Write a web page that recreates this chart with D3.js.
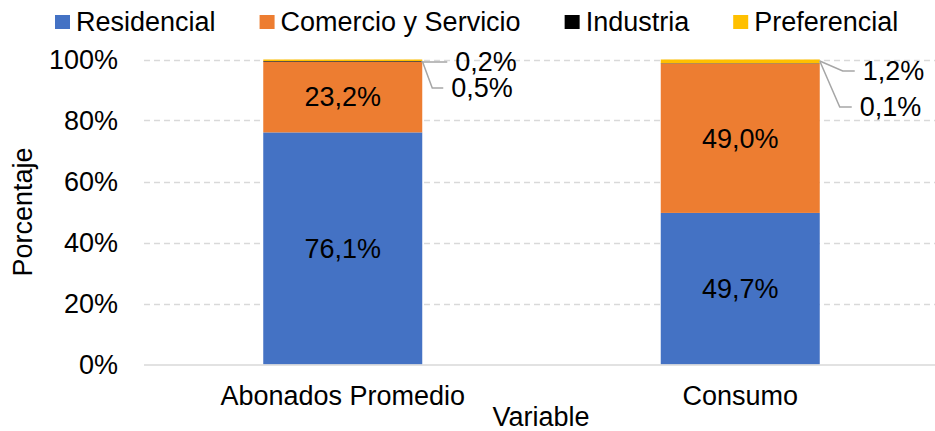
<!DOCTYPE html>
<html>
<head>
<meta charset="utf-8">
<script src="https://cdn.jsdelivr.net/npm/d3@7"></script>
<style>
  body { margin: 0; background: #fff; }
  svg text { font-family: "Liberation Sans", Arial, sans-serif; fill: #000; }
</style>
</head>
<body>
<svg id="chart"></svg>
<script>
  // Data
  var categories = ['Abonados Promedio', 'Consumo']
  var seriesNames = ['Residencial', 'Comercio y Servicio', 'Industria', 'Preferencial']
  var residencial = [76.1, 49.7]
  var comercio = [23.2, 49.0]
  var industria = [0.2, 0.1]
  var preferencial = [0.5, 1.2]
  var yTicks = [0, 20, 40, 60, 80, 100]
  var colors = ['#4472C4', '#ED7D31', '#000000', '#FFC000']

  var WIDTH = 935
  var HEIGHT = 431
  var FONT = 27

  var rows = categories.map(function (c, i) {
    return {
      cat: c,
      'Residencial': residencial[i],
      'Comercio y Servicio': comercio[i],
      'Industria': industria[i],
      'Preferencial': preferencial[i]
    }
  })

  var svg = d3.select('#chart')
    .attr('width', WIDTH)
    .attr('height', HEIGHT)

  var x = d3.scaleBand()
    .domain(categories)
    .range([144, 939])
    .paddingInner(0.6)
    .paddingOuter(0.3)

  var y = d3.scaleLinear()
    .domain([0, 100])
    .range([364.5, 59.5])

  var color = d3.scaleOrdinal().domain(seriesNames).range(colors)

  // Gridlines
  svg.append('g')
    .selectAll('line')
    .data(yTicks.filter(function (d) { return d > 0 }))
    .enter().append('line')
    .attr('x1', 144)
    .attr('x2', WIDTH)
    .attr('y1', function (d) { return Math.round(y(d)) + 0.5 })
    .attr('y2', function (d) { return Math.round(y(d)) + 0.5 })
    .attr('stroke', '#d9d9d9')
    .attr('stroke-width', 1.5)
    .attr('stroke-dasharray', '6,4')

  // Y axis labels
  var yAxis = d3.axisLeft(y)
    .tickValues(yTicks)
    .tickSize(0)
    .tickPadding(0)
    .tickFormat(function (d) { return d + '%' })

  svg.append('g')
    .attr('transform', 'translate(118,0)')
    .call(yAxis)
    .call(function (g) { g.select('.domain').remove() })
    .selectAll('text')
    .attr('font-size', FONT)
    .attr('font-family', '"Liberation Sans", Arial, sans-serif')
    .attr('fill', '#000')
    .attr('dy', '0.35em')

  // Stacked bars
  var stacked = d3.stack().keys(seriesNames)(rows)

  svg.append('g')
    .selectAll('g')
    .data(stacked)
    .enter().append('g')
    .attr('fill', function (d) { return color(d.key) })
    .selectAll('rect')
    .data(function (d) { return d })
    .enter().append('rect')
    .attr('x', function (d) { return x(d.data.cat) })
    .attr('width', x.bandwidth())
    .attr('y', function (d) { return y(d[1]) })
    .attr('height', function (d) { return y(d[0]) - y(d[1]) })

  // X axis line
  svg.append('line')
    .attr('x1', 144)
    .attr('x2', WIDTH)
    .attr('y1', 365)
    .attr('y2', 365)
    .attr('stroke', '#d9d9d9')
    .attr('stroke-width', 1.5)

  // X axis labels
  var xAxis = d3.axisBottom(x).tickSize(0).tickPadding(0)
  svg.append('g')
    .attr('transform', 'translate(0,405)')
    .call(xAxis)
    .call(function (g) { g.select('.domain').remove() })
    .selectAll('text')
    .attr('font-size', FONT)
    .attr('font-family', '"Liberation Sans", Arial, sans-serif')
    .attr('fill', '#000')
    .attr('dy', 0)

  function fmt (v) { return v.toFixed(1).replace('.', ',') + '%' }

  // Labels inside the big segments
  stacked.slice(0, 2).forEach(function (s) {
    svg.append('g')
      .selectAll('text')
      .data(s)
      .enter().append('text')
      .attr('x', function (d) { return x(d.data.cat) + x.bandwidth() / 2 })
      .attr('y', function (d) { return y((d[0] + d[1]) / 2) })
      .attr('dy', '0.35em')
      .attr('text-anchor', 'middle')
      .attr('font-size', FONT)
      .text(function (d) { return fmt(d[1] - d[0]) })
  })

  // Callout labels for the small segments (leader lines from bar top corner)
  var callouts = [
    { key: 'Industria', i: 0, dx: 25, dy: 1, elbow: 0 },
    { key: 'Preferencial', i: 0, dx: 21, dy: 27, elbow: 10 },
    { key: 'Preferencial', i: 1, dx: 35, dy: 10, elbow: 23 },
    { key: 'Industria', i: 1, dx: 32, dy: 46, elbow: 20 }
  ]
  var calloutG = svg.append('g')
  callouts.forEach(function (c) {
    var s = stacked[seriesNames.indexOf(c.key)][c.i]
    var top = stacked[stacked.length - 1][c.i][1]
    var x0 = x(categories[c.i]) + x.bandwidth()
    var y0 = y(top) + 1.5
    var yl = y0 + c.dy
    calloutG.append('polyline')
      .attr('points', [[x0, y0], [x0 + c.elbow, yl], [x0 + c.dx, yl]].map(function (p) { return p.join(',') }).join(' '))
      .attr('fill', 'none')
      .attr('stroke', '#a6a6a6')
      .attr('stroke-width', 1.5)
    calloutG.append('text')
      .attr('x', x0 + c.dx + 8)
      .attr('y', yl)
      .attr('dy', '0.35em')
      .attr('font-size', FONT)
      .text(fmt(s[1] - s[0]))
  })

  // Axis titles
  svg.append('text')
    .attr('transform', 'translate(32,212) rotate(-90)')
    .attr('text-anchor', 'middle')
    .attr('font-size', FONT)
    .text('Porcentaje')

  svg.append('text')
    .attr('x', 541)
    .attr('y', 426)
    .attr('text-anchor', 'middle')
    .attr('font-size', FONT)
    .text('Variable')

  // Legend
  var legend = svg.append('g').attr('transform', 'translate(55,0)')
  var lx = 0
  seriesNames.forEach(function (name) {
    var g = legend.append('g').attr('transform', 'translate(' + lx + ',0)')
    g.append('rect')
      .attr('x', 0).attr('y', 15)
      .attr('width', 15).attr('height', 14)
      .attr('fill', color(name))
    var t = g.append('text')
      .attr('x', 21).attr('y', 31)
      .attr('font-size', FONT)
      .text(name)
    lx += 21 + t.node().getComputedTextLength() + 44
  })
</script>
</body>
</html>
